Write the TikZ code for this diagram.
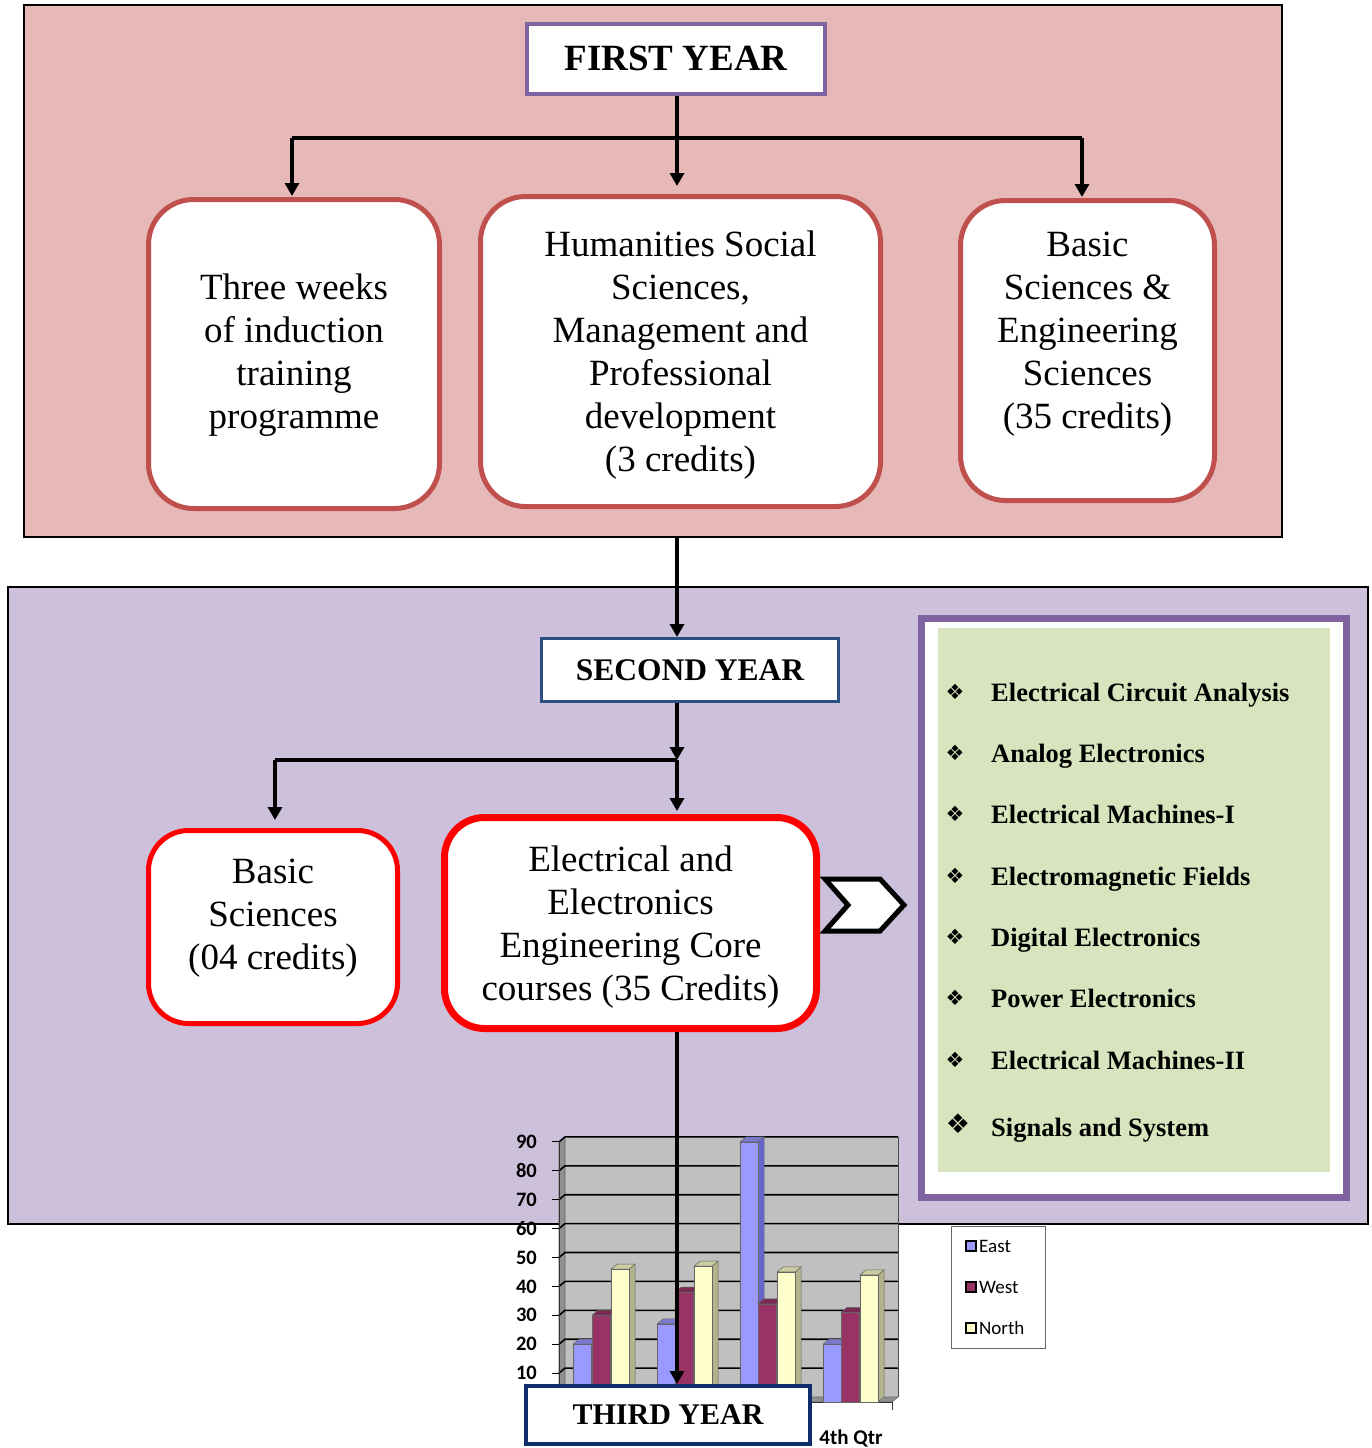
\documentclass[tikz,border=0pt]{standalone}
\usepackage{fontspec}
\setmainfont{Liberation Serif}
\newfontfamily\chartfont{Carlito}
\newfontfamily\symfont{DejaVu Sans}
\usetikzlibrary{arrows.meta}
\definecolor{pinkbg}{HTML}{E6B9B8}
\definecolor{lilacbg}{HTML}{CCC0DA}
\definecolor{purp}{HTML}{8064A2}
\definecolor{brick}{HTML}{C0504D}
\definecolor{navyA}{HTML}{2B4F81}
\definecolor{navyB}{HTML}{0F2D69}
\definecolor{leaf}{HTML}{D7E4BD}
\definecolor{eastc}{HTML}{9999FF}
\definecolor{eastside}{HTML}{6666CC}
\definecolor{westc}{HTML}{993366}
\definecolor{westside}{HTML}{66224A}
\definecolor{northc}{HTML}{FFFFCC}
\definecolor{northside}{HTML}{B3B38C}
\definecolor{wallc}{HTML}{C0C0C0}
\definecolor{sidewall}{HTML}{909090}
\newcommand{\chartbar}[4]{%
  \pgfmathsetmacro{\bt}{1402-2.89*#2}
  \filldraw[fill=#4, draw=black!60, line width=0.5pt] (#1+18,\bt) -- (#1+24,\bt-5) -- (#1+24,1397) -- (#1+18,1402) -- cycle;
  \filldraw[fill=#3!80!black, draw=black!60, line width=0.5pt] (#1,\bt) -- (#1+6,\bt-5) -- (#1+24,\bt-5) -- (#1+18,\bt) -- cycle;
  \filldraw[fill=#3, draw=black!60, line width=0.5pt] (#1,1402) rectangle (#1+18,\bt);
}
\tikzset{
  region/.style={draw=black, line width=1.3pt},
  yearbox/.style={draw, fill=white, inner sep=0pt, font=\bfseries},
  roundbox/.style={draw=brick, line width=5pt, fill=white, rounded corners=45pt, inner sep=0pt},
  redbox/.style={draw=red, line width=5pt, fill=white, rounded corners=40pt, inner sep=0pt},
  boxtext/.style={align=center, inner sep=0pt, font=\fontsize{37}{43}\selectfont},
  conn/.style={line width=3.6pt},
  arr/.style={line width=3.6pt, -{Triangle[length=13pt,width=14pt]}},
  course/.style={anchor=base west, inner sep=0pt, font=\fontsize{26.5}{30}\selectfont\bfseries},
  bul/.style={inner sep=0pt, font=\symfont\fontsize{21}{22}\selectfont},
  ylab/.style={anchor=east, inner sep=0pt, font=\chartfont\bfseries\fontsize{20.5}{21}\selectfont},
  leglab/.style={anchor=west, inner sep=0pt, font=\chartfont\fontsize{19}{19}\selectfont},
  swatch/.style={draw=black, line width=1.2pt, minimum size=10pt, inner sep=0pt}
}
\begin{document}
\begin{tikzpicture}[x=1pt,y=-1pt]
\useasboundingbox (0,0) rectangle (1372,1448);
\fill[white] (0,0) rectangle (1372,1448);

% regions
\node[region, fill=pinkbg, minimum width=1258, minimum height=532, inner sep=0] (r1) at (653,271) {};
\node[region, fill=lilacbg, minimum width=1360, minimum height=637, inner sep=0] (r2) at (688,905.5) {};

% first year
\node[yearbox, draw=purp, line width=4pt, minimum width=298, minimum height=70,
      font=\bfseries\fontsize{37}{40}\selectfont] (fy) at (676,58.5) {FIRST YEAR};
\node[roundbox, minimum width=291, minimum height=309] (tw) at (294,354) {};
\node[boxtext] (twtext) at (294,355) {Three weeks\\of induction\\training\\programme};
\node[roundbox, minimum width=400, minimum height=310] (hum) at (680.5,351.5) {};
\node[boxtext] (humtext) at (680.5,355.5)
  {Humanities Social\\Sciences,\\Management and\\Professional\\development\\(3 credits)};
\node[roundbox, minimum width=254, minimum height=300] (bse) at (1087.5,350.5) {};
\node[boxtext] (bsetext) at (1087.5,334)
  {Basic\\Sciences \&\\Engineering\\Sciences\\(35 credits)};

\coordinate (jL) at (292,138);
\coordinate (jM) at (677,138);
\coordinate (jR) at (1082,138);
\draw[arr, shorten >=8pt] (fy.south -| jM) -- (hum.north -| jM);
\draw[conn] (jL) -- (jR);
\draw[arr, shorten >=1pt] (jL) -- (tw.north -| jL);
\draw[arr, shorten >=1pt] (jR) -- (bse.north -| jR);

% second year
\node[yearbox, draw=navyA, line width=3pt, minimum width=297, minimum height=63,
      font=\bfseries\fontsize{31.5}{34}\selectfont] (sy) at (690,670) {SECOND YEAR};
\draw[arr] (r1.south -| jM) -- (sy.north -| jM);

\node[redbox, minimum width=249, minimum height=193] (bs) at (273,927) {};
\node[boxtext] (bstext) at (273,918) {Basic\\Sciences\\(04 credits)};
\node[redbox, line width=7pt, minimum width=372, minimum height=211] (eee) at (630.5,923) {};
\node[boxtext] (eeetext) at (630.5,927)
  {Electrical and\\Electronics\\Engineering Core\\courses (35 Credits)};

\coordinate (j2) at (677,760);
\coordinate (jB) at (275,760);
\draw[arr] (sy.south -| j2) -- (j2);
\draw[conn] (j2) -- (jB);
\draw[arr, shorten >=8pt] (jB) -- (bs.north -| jB);
\draw[arr, shorten >=3pt] (j2) -- (eee.north -| j2);

% chevron
\draw[line width=5pt, fill=white, line join=miter] (825,879) -- (880,879) -- (904,905) -- (880,931) -- (825,931) -- (848,905) -- cycle;

% course list
\node[draw=purp, line width=7pt, fill=white, minimum width=425, minimum height=579, inner sep=0] (clist) at (1134,908) {};
\fill[leaf] (938,628) rectangle (1330,1172);
\foreach \yy/\txt [count=\i] in {692/Electrical Circuit Analysis, 753/Analog Electronics, 814/Electrical Machines-I,
  876/Electromagnetic Fields, 937/Digital Electronics, 998/Power Electronics, 1060/Electrical Machines-II}{
  \node[bul] (b\i) at (955,\yy) {❖};
  \node[course] (c\i) at (991,\yy+9) {\txt};
}
\node[bul, font=\symfont\fontsize{27}{28}\selectfont] (b8) at (958,1124) {❖};
\node[course] (c8) at (991,1136) {Signals and System};

% chart
\fill[wallc] (565,1137) rectangle (898,1397);
\filldraw[fill=sidewall, draw=black!60, line width=0.6pt] (559,1142) -- (565,1137) -- (565,1397) -- (559,1402) -- cycle;
\filldraw[fill=sidewall, draw=black!60, line width=0.6pt] (559,1402) -- (565,1397) -- (898,1397) -- (892,1402) -- cycle;
\foreach \v in {10,20,...,90}{
  \pgfmathsetmacro{\gy}{1402-2.89*\v}
  \draw[line width=1.6pt] (559,\gy) -- (565,\gy-5) -- (898,\gy-5);
  \draw[line width=1pt] (552,\gy) -- (559,\gy);
  \node[ylab] (yl\v) at (537,\gy) {\v};
}
\draw[black!70, line width=1pt] (898,1137) -- (898,1397);
\draw[black!80, line width=1pt] (559,1142) -- (559,1402) -- (892,1402) -- (892,1410);
\chartbar{573}{20}{eastc}{eastside}
\chartbar{592}{30}{westc}{westside}
\chartbar{611}{46}{northc}{northside}
\chartbar{657}{27}{eastc}{eastside}
\chartbar{675}{38}{westc}{westside}
\chartbar{694}{47}{northc}{northside}
\chartbar{740}{90}{eastc}{eastside}
\chartbar{758}{34}{westc}{westside}
\chartbar{777}{45}{northc}{northside}
\chartbar{823}{20}{eastc}{eastside}
\chartbar{841}{31}{westc}{westside}
\chartbar{860}{44}{northc}{northside}
\node[inner sep=0pt, font=\chartfont\bfseries\fontsize{21}{21}\selectfont] (q4) at (851,1438) {4th Qtr};

% legend
\node[draw=black!60, line width=1pt, fill=white, minimum width=94, minimum height=122, inner sep=0] (legend) at (998,1287) {};
\node[swatch, fill=eastc] (s1) at (971,1246) {};
\node[leglab] (l1) at (979,1246) {East};
\node[swatch, fill=westc] (s2) at (971,1287) {};
\node[leglab] (l2) at (979,1287) {West};
\node[swatch, fill=northc] (s3) at (971,1328) {};
\node[leglab] (l3) at (979,1328) {North};

% third year
\node[yearbox, draw=navyB, line width=4pt, minimum width=284, minimum height=58,
      font=\bfseries\fontsize{30}{32}\selectfont] (ty) at (668,1415) {THIRD YEAR};
\draw[arr] (eee.south -| j2) -- (ty.north -| j2);
\end{tikzpicture}
\end{document}
